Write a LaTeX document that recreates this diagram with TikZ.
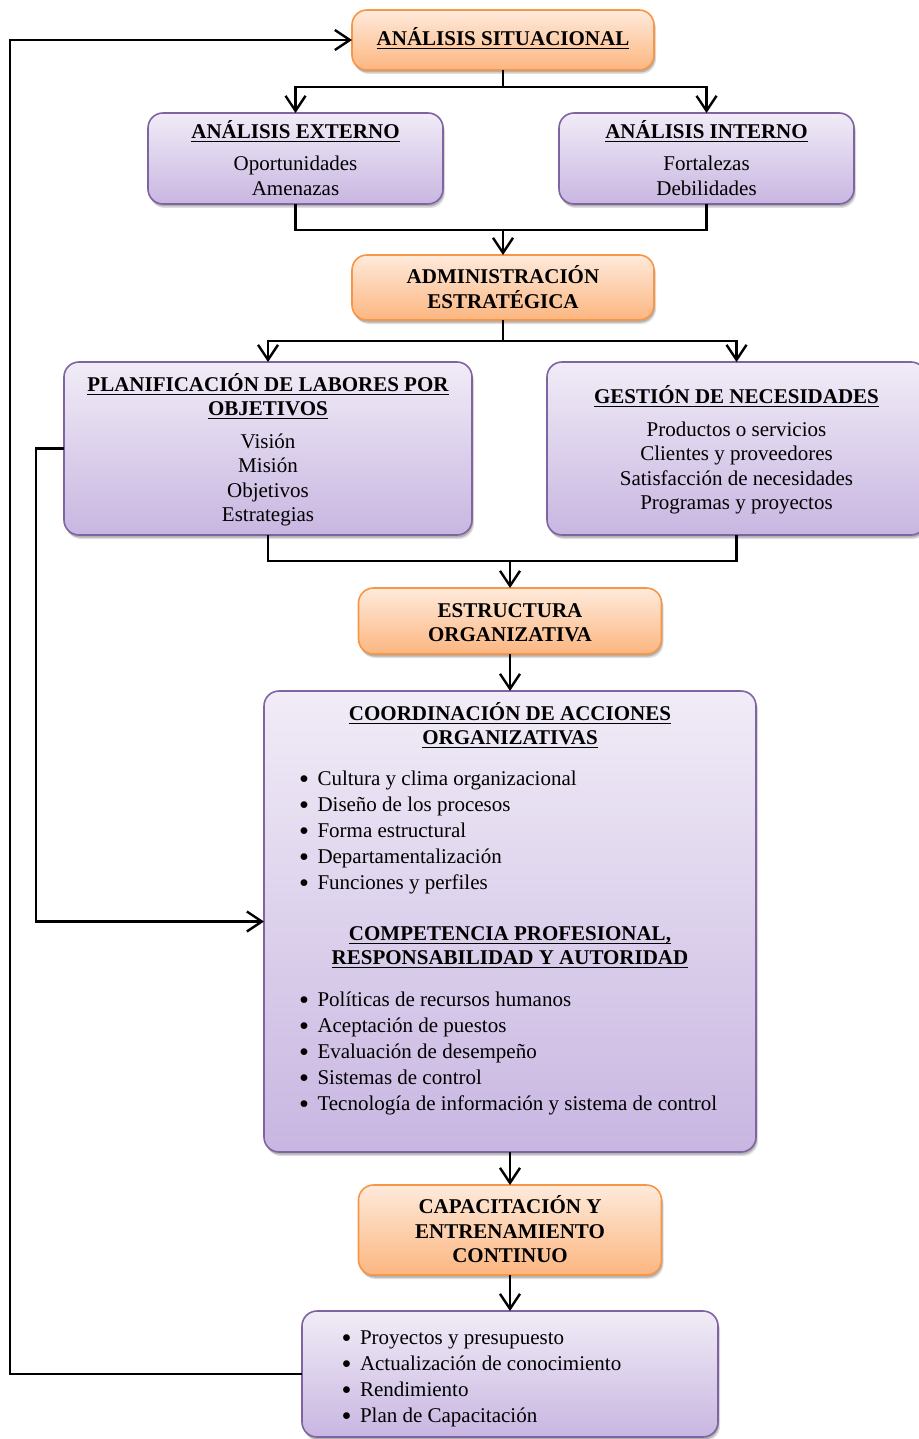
\documentclass[tikz,border=0pt]{standalone}
\usepackage{fontspec}
\usepackage{graphicx}
\setmainfont{Liberation Serif}
\usetikzlibrary{arrows.meta,shadows}

\definecolor{orangeedge}{HTML}{F79646}
\definecolor{orangetop}{HTML}{FEEADB}
\definecolor{orangebot}{HTML}{FCB680}
\definecolor{purpleedge}{HTML}{8064A2}
\definecolor{purpletop}{HTML}{F1ECF7}
\definecolor{purplebot}{HTML}{C8B6E1}

% underlined heading text
\newsavebox\ulxbox
\newcommand\ulx[1]{\sbox\ulxbox{#1}\rlap{\rule[-3.6pt]{\wd\ulxbox}{1.4pt}}\usebox\ulxbox}
% line strut for box texts (a little more room above the baseline)
\newcommand\tst{\rule[-3.85pt]{0pt}{24.5pt}}
% bullet followed by a fixed gap
\newcommand\bul{\makebox[18.5pt][l]{\raisebox{-3.2pt}{\scalebox{1.35}{\textbullet}}}\strut}

\begin{document}
% keep line spacing fixed even with accents and descenders
\lineskiplimit=-6pt\relax
\lineskip=0pt\relax
\begin{tikzpicture}[x=1pt,y=-1pt,
  every node/.style={inner sep=0pt,outer sep=0pt},
  txt/.style={font=\fontsize{21}{24.5}\selectfont},
  hdtxt/.style={font=\fontsize{21}{24}\selectfont\bfseries},
  lst/.style={font=\fontsize{21}{26}\selectfont,align=left},
  shadowed/.style={
    drop shadow={shadow xshift=2pt,shadow yshift=-4pt,opacity=.13,fill=black},
    drop shadow={shadow xshift=1pt,shadow yshift=-2.5pt,opacity=.2,fill=black}},
  boxbase/.style={rounded corners=15pt,line width=1.6pt,align=center,shadowed},
  orangebox/.style={boxbase,draw=orangeedge,top color=orangetop,bottom color=orangebot,
    font=\fontsize{21}{24.5}\selectfont\bfseries},
  purplebox/.style={boxbase,draw=purpleedge,top color=purpletop,bottom color=purplebot,txt},
  conn/.style={line width=2.4pt},
  flow/.style={conn,-{Straight Barb[length=15pt,width=20pt]}},
]
\useasboundingbox (0,0) rectangle (918,1439);

% ---- boxes ----
\node[orangebox,minimum width=302pt,minimum height=60pt] (sit) at (503,40)
  {\ulx{ANÁLISIS SITUACIONAL}\strut};

\node[purplebox,minimum width=295pt,minimum height=91pt] (ext) at (295.5,158.5)
  {\textbf{\ulx{ANÁLISIS EXTERNO}}\tst\\[8pt]Oportunidades\tst\\Amenazas\tst};

\node[purplebox,minimum width=295pt,minimum height=91pt] (int) at (706.5,158.5)
  {\textbf{\ulx{ANÁLISIS INTERNO}}\tst\\[8pt]Fortalezas\tst\\Debilidades\tst};

\node[orangebox,minimum width=302pt,minimum height=65pt] (adm) at (503,287.5)
  {ADMINISTRACIÓN\tst\\ESTRATÉGICA\tst};

\node[purplebox,minimum width=408pt,minimum height=173pt] (plan) at (268,448.5)
  {\textbf{\ulx{PLANIFICACIÓN DE LABORES POR}}\tst\\\textbf{\ulx{OBJETIVOS}}\tst\\[8pt]
   Visión\tst\\Misión\tst\\Objetivos\tst\\Estrategias\tst};

\node[purplebox,minimum width=379pt,minimum height=173pt] (gest) at (736.5,448.5)
  {\textbf{\ulx{GESTIÓN DE NECESIDADES}}\tst\\[8pt]
   Productos o servicios\tst\\Clientes y proveedores\tst\\
   Satisfacción de necesidades\tst\\Programas y proyectos\tst};

\node[orangebox,minimum width=303pt,minimum height=66pt] (est) at (510,621)
  {ESTRUCTURA\tst\\ORGANIZATIVA\tst};

\node[purplebox,minimum width=492pt,minimum height=461pt] (coord) at (510,921.5) {};
\node[hdtxt,align=center] (coordT1) at (510,727)
  {\ulx{COORDINACIÓN DE ACCIONES}\strut\\\ulx{ORGANIZATIVAS}\strut};
\node[lst,anchor=west] (coordL1) at (299,832)
  {\bul Cultura y clima organizacional\\\bul Diseño de los procesos\\\bul Forma estructural\\
   \bul Departamentalización\\\bul Funciones y perfiles};
\node[hdtxt,align=center] (coordT2) at (510,947.5)
  {\ulx{COMPETENCIA PROFESIONAL,}\strut\\\ulx{RESPONSABILIDAD Y AUTORIDAD}\strut};
\node[lst,anchor=west] (coordL2) at (299,1053)
  {\bul Políticas de recursos humanos\\\bul Aceptación de puestos\\\bul Evaluación de desempeño\\
   \bul Sistemas de control\\\bul Tecnología de información y sistema de control};

\node[orangebox,minimum width=303pt,minimum height=90pt] (cap) at (510,1230)
  {CAPACITACIÓN Y\tst\\ENTRENAMIENTO\tst\\CONTINUO\tst};

\node[purplebox,minimum width=416pt,minimum height=126pt] (bot) at (510,1374) {};
\node[lst,anchor=west] (botL) at (341.5,1378)
  {\bul Proyectos y presupuesto\\\bul Actualización de conocimiento\\\bul Rendimiento\\
   \bul Plan de Capacitación};

% ---- connectors ----
\coordinate (j1) at (503,87);
\draw[conn] (sit.south) -- (j1);
\draw[flow] (j1) -| (ext.north);
\draw[flow] (j1) -| (int.north);

\coordinate (j2) at (503,230);
\draw[conn] (ext.south) |- (j2) -| (int.south);
\draw[flow] (j2) -- (adm.north);

\coordinate (j3) at (503,341);
\draw[conn] (adm.south) -- (j3);
\draw[flow] (j3) -| (plan.north);
\draw[flow] (j3) -| (gest.north);

\coordinate (j4) at (510,561);
\draw[conn] (plan.south) |- (j4) -| (gest.south);
\draw[flow] (j4) -- (est.north);

\draw[flow] (est.south) -- (coord.north);
\draw[flow] (coord.south) -- (cap.north);
\draw[flow] (cap.south) -- (bot.north);

% feedback loops
\coordinate (fbP) at (36,448.5);
\draw[flow] (plan.west) -- (fbP) |- (coord.west);
\coordinate (fbB) at (10,1374);
\draw[flow] (bot.west) -- (fbB) |- (sit.west);
\end{tikzpicture}
\end{document}
